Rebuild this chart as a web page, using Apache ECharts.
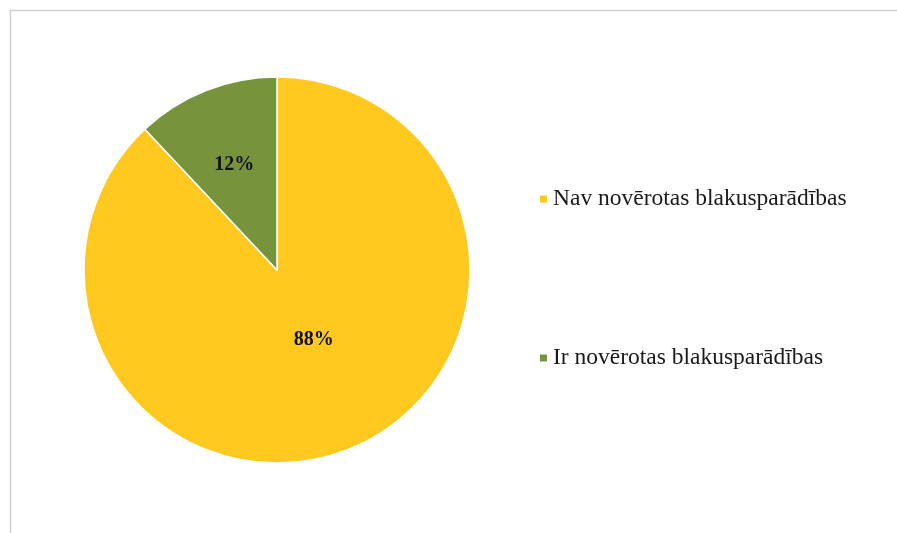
<!DOCTYPE html>
<html>
<head>
<meta charset="utf-8">
<script src="https://cdn.jsdelivr.net/npm/echarts@6/dist/echarts.min.js"></script>
<style>
html,body{margin:0;padding:0;background:#fff;}
#chart{width:897px;height:533px;}
</style>
</head>
<body>
<div id="chart"></div>
<script>
var categories = ['Nav novērotas blakusparādības', 'Ir novērotas blakusparādības'];
var values = [88, 12];
var colors = ['#FFC91F', '#77933C'];

var labelShift = [[0, -23], [-6, -13]];

var chart = echarts.init(document.getElementById('chart'));
chart.setOption({
  animation: false,
  graphic: [{
    type: 'rect',
    shape: { x: 10.5, y: 10.5, width: 1000, height: 1000 },
    style: { fill: 'none', stroke: '#cfcfcf', lineWidth: 1.5 },
    silent: true
  }],
  legend: {
    orient: 'vertical',
    left: 538,
    top: 187,
    padding: 0,
    itemGap: 135,
    itemWidth: 9,
    itemHeight: 9,
    icon: 'rect',
    data: categories,
    textStyle: { fontFamily: 'Liberation Serif', fontSize: 23.5, color: '#1a1a1a' }
  },
  series: [{
    type: 'pie',
    center: [277, 270],
    radius: [0, 193],
    startAngle: 90,
    clockwise: true,
    data: categories.map(function (c, i) {
      return { name: c, value: values[i], itemStyle: { color: colors[i] } };
    }),
    itemStyle: { borderColor: '#ffffff', borderWidth: 1.5 },
    label: {
      show: true,
      position: 'inside',
      formatter: '{d}%',
      fontFamily: 'Liberation Serif',
      fontWeight: 'bold',
      fontSize: 20,
      color: '#111'
    },
    labelLayout: function (p) {
      return { dx: labelShift[p.dataIndex][0], dy: labelShift[p.dataIndex][1] };
    },
    emphasis: { disabled: true }
  }]
});
</script>
</body>
</html>
